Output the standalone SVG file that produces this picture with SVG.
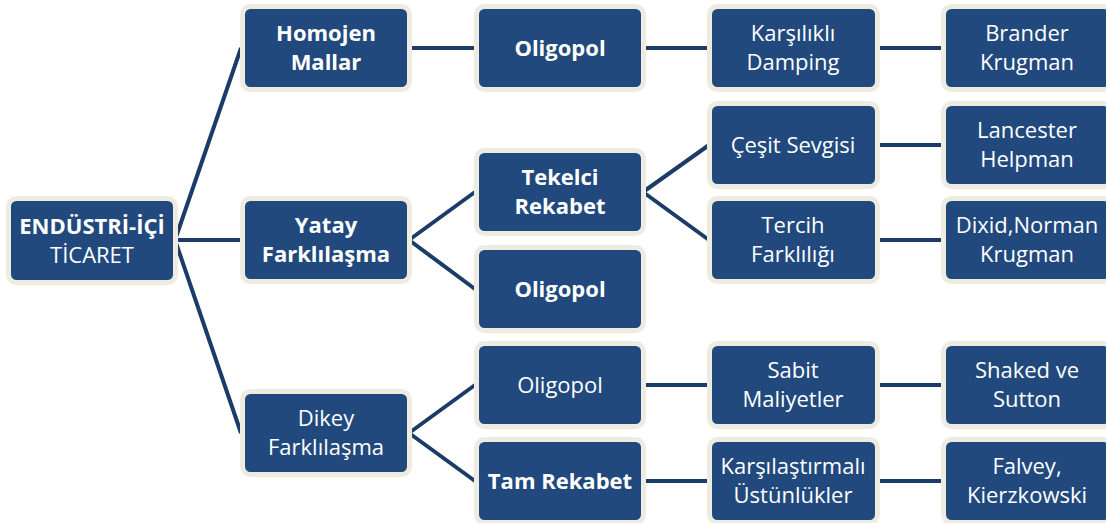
<svg xmlns="http://www.w3.org/2000/svg" width="1106" height="523" viewBox="0 0 1106 523">
<style>
.box{fill:#21497D;stroke:#EEECE1;stroke-width:5}
.t{font-family:"Open Sans","Liberation Sans",sans-serif;font-size:22px;fill:#FFFFFF;text-anchor:middle}
.b{font-weight:bold}
.c{stroke:#1B3B68;stroke-width:4;fill:none}
</style>
<rect width="1106" height="523" fill="#FFFFFF"/>
<g id="connectors">
<path class="c" d="M175 240 L241 48 M175 240 L241 240 M175 240 L241 433"/>
<path class="c" d="M409 48 L475 48 M643 48 L708 48 M877 48 L942 48"/>
<path class="c" d="M409 240 L475 192 M409 240 L475 289"/>
<path class="c" d="M643 192 L709 145 M643 192 L709 240"/>
<path class="c" d="M877 145 L942 145 M877 240 L942 240"/>
<path class="c" d="M409 433 L475 385 M409 433 L475 481"/>
<path class="c" d="M643 385 L708 385 M877 385 L942 385"/>
<path class="c" d="M643 481 L708 481 M877 481 L942 481"/>
</g>
<g id="n-endustri"><rect class="box" x="8.5" y="198.5" width="167" height="84" rx="8"/><text class="t" x="92" y="234"><tspan class="b">ENDÜSTRİ-İÇİ</tspan></text><text class="t" x="92" y="263">TİCARET</text></g>
<g id="n-homojen"><rect class="box" x="242.5" y="6.5" width="167" height="83" rx="8"/><text class="t b" x="326" y="41">Homojen</text><text class="t b" x="326" y="70">Mallar</text></g>
<g id="n-yatay"><rect class="box" x="242.5" y="198.5" width="167" height="83" rx="8"/><text class="t b" x="326" y="233">Yatay</text><text class="t b" x="326" y="262">Farklılaşma</text></g>
<g id="n-dikey"><rect class="box" x="242.5" y="391.5" width="167" height="83" rx="8"/><text class="t" x="326" y="426">Dikey</text><text class="t" x="326" y="455">Farklılaşma</text></g>
<g id="n-oligopol1"><rect class="box" x="476.5" y="6.5" width="167" height="83" rx="8"/><text class="t b" x="560" y="56">Oligopol</text></g>
<g id="n-tekelci"><rect class="box" x="476.5" y="150.5" width="167" height="83" rx="8"/><text class="t b" x="560" y="185">Tekelci</text><text class="t b" x="560" y="214">Rekabet</text></g>
<g id="n-oligopol2"><rect class="box" x="476.5" y="247.5" width="167" height="83" rx="8"/><text class="t b" x="560" y="297">Oligopol</text></g>
<g id="n-oligopol3"><rect class="box" x="476.5" y="343.5" width="167" height="83" rx="8"/><text class="t" x="560" y="393">Oligopol</text></g>
<g id="n-tam"><rect class="box" x="476.5" y="439.5" width="167" height="83" rx="8"/><text class="t b" x="560" y="489">Tam Rekabet</text></g>
<g id="n-karsilikli"><rect class="box" x="709.5" y="6.5" width="168" height="83" rx="8"/><text class="t" x="793" y="41">Karşılıklı</text><text class="t" x="793" y="70">Damping</text></g>
<g id="n-cesit"><rect class="box" x="709.5" y="103.5" width="168" height="83" rx="8"/><text class="t" x="793" y="153">Çeşit Sevgisi</text></g>
<g id="n-tercih"><rect class="box" x="709.5" y="198.5" width="168" height="83" rx="8"/><text class="t" x="793" y="233">Tercih</text><text class="t" x="793" y="262">Farklılığı</text></g>
<g id="n-sabit"><rect class="box" x="709.5" y="343.5" width="168" height="83" rx="8"/><text class="t" x="793" y="378">Sabit</text><text class="t" x="793" y="407">Maliyetler</text></g>
<g id="n-karsilastirmali"><rect class="box" x="709.5" y="439.5" width="168" height="83" rx="8"/><text class="t" x="793" y="474">Karşılaştırmalı</text><text class="t" x="793" y="503">Üstünlükler</text></g>
<g id="n-brander"><rect class="box" x="943.5" y="6.5" width="168" height="83" rx="8"/><text class="t" x="1027" y="41">Brander</text><text class="t" x="1027" y="70">Krugman</text></g>
<g id="n-lancester"><rect class="box" x="943.5" y="103.5" width="168" height="83" rx="8"/><text class="t" x="1027" y="138">Lancester</text><text class="t" x="1027" y="167">Helpman</text></g>
<g id="n-dixid"><rect class="box" x="943.5" y="198.5" width="168" height="83" rx="8"/><text class="t" x="1027" y="233">Dixid,Norman</text><text class="t" x="1027" y="262">Krugman</text></g>
<g id="n-shaked"><rect class="box" x="943.5" y="343.5" width="168" height="83" rx="8"/><text class="t" x="1027" y="378">Shaked ve</text><text class="t" x="1027" y="407">Sutton</text></g>
<g id="n-falvey"><rect class="box" x="943.5" y="439.5" width="168" height="83" rx="8"/><text class="t" x="1027" y="474">Falvey,</text><text class="t" x="1027" y="503">Kierzkowski</text></g>
</svg>
